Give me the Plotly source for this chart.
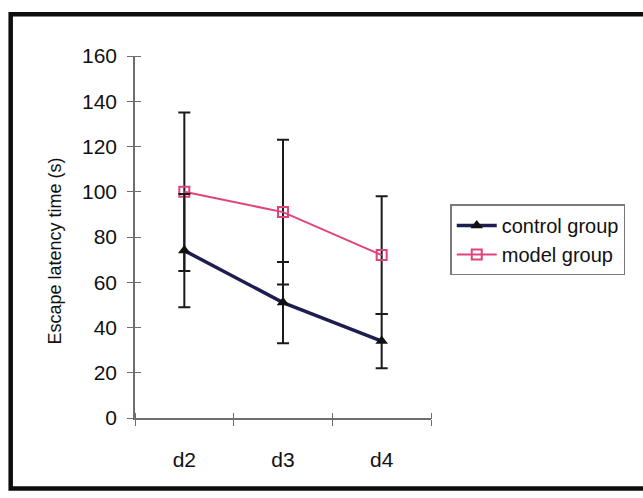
import plotly.graph_objects as go

# Escape latency per training day
days = ["d2", "d3", "d4"]
control_mean = [74, 51, 34]
control_sd = [25, 18, 12]
model_mean = [100, 91, 72]
model_sd = [35, 32, 26]
y_ticks = [0, 20, 40, 60, 80, 100, 120, 140, 160]

FONT = "Liberation Sans"
AXIS_GRAY = "#6e6e6e"

fig = go.Figure()

fig.add_trace(go.Scatter(
    x=days, y=model_mean, name="model group", mode="lines+markers",
    line=dict(color="#e0437c", width=2),
    marker=dict(symbol="square-open", size=10, color="#e0437c", line=dict(width=2)),
    error_y=dict(type="data", array=model_sd, color="#1a1a1a", thickness=2, width=6),
))
fig.add_trace(go.Scatter(
    x=days, y=control_mean, name="control group", mode="lines+markers",
    line=dict(color="#1d1d50", width=3.5),
    marker=dict(symbol="triangle-up", size=11, color="#111111"),
    error_y=dict(type="data", array=control_sd, color="#1a1a1a", thickness=2, width=6),
))

# invisible trace on the shifted axes, which carry the inner half of each tick
fig.add_trace(go.Scatter(x=days, y=control_mean, xaxis="x2", yaxis="y2",
                         mode="markers", marker=dict(opacity=0),
                         showlegend=False, hoverinfo="skip"))

fig.update_layout(
    width=643, height=498,
    margin=dict(l=135, r=212, t=56, b=80),
    paper_bgcolor="white", plot_bgcolor="rgba(0,0,0,0)",
    font=dict(family=FONT, size=21, color="#111111"),
    showlegend=True,
    legend=dict(
        x=1.065, y=0.59, xanchor="left", yanchor="top",
        bordercolor="#7a7a7a", borderwidth=1.5, bgcolor="white",
        font=dict(size=20), traceorder="reversed",
        itemwidth=40, tracegroupgap=0,
    ),
    xaxis=dict(
        type="category", range=[-0.5, 2.5], tickson="boundaries",
        ticks="outside", ticklen=6, tickcolor=AXIS_GRAY, tickwidth=1.2,
        showline=True, linecolor=AXIS_GRAY, linewidth=1.5,
        showgrid=False, zeroline=False, ticklabelstandoff=22,
    ),
    yaxis=dict(
        range=[0, 160], tickvals=y_ticks,
        ticks="outside", ticklen=6, tickcolor=AXIS_GRAY, tickwidth=1.2,
        showline=True, linecolor=AXIS_GRAY, linewidth=1.5,
        showgrid=False, zeroline=False, ticklabelstandoff=6,
    ),
    xaxis2=dict(
        type="category", range=[-0.5, 2.5], tickson="boundaries",
        overlaying="x", anchor="free", position=0.017, side="bottom",
        ticks="outside", ticklen=6, tickcolor=AXIS_GRAY,
        tickwidth=1.2, showticklabels=False, showgrid=False, showline=False,
        zeroline=False,
    ),
    yaxis2=dict(
        range=[0, 160], tickvals=y_ticks, overlaying="y", anchor="free",
        position=0.02, side="left", ticks="outside", ticklen=6,
        tickcolor=AXIS_GRAY, tickwidth=1.2, showticklabels=False,
        showgrid=False, showline=False, zeroline=False,
    ),
    annotations=[dict(
        text="Escape latency time (s)", textangle=-90,
        xref="paper", yref="paper", x=-0.27, y=0.46,
        xanchor="center", yanchor="middle", showarrow=False,
        font=dict(size=18),
    )],
    shapes=[dict(
        type="rect", xref="paper", yref="paper",
        x0=-0.42, x1=2.2, y0=-0.195, y1=1.115,
        line=dict(color="#0d0d0d", width=4.5), fillcolor="rgba(0,0,0,0)",
        layer="below",
    )],
)

fig.write_html("out.html")
